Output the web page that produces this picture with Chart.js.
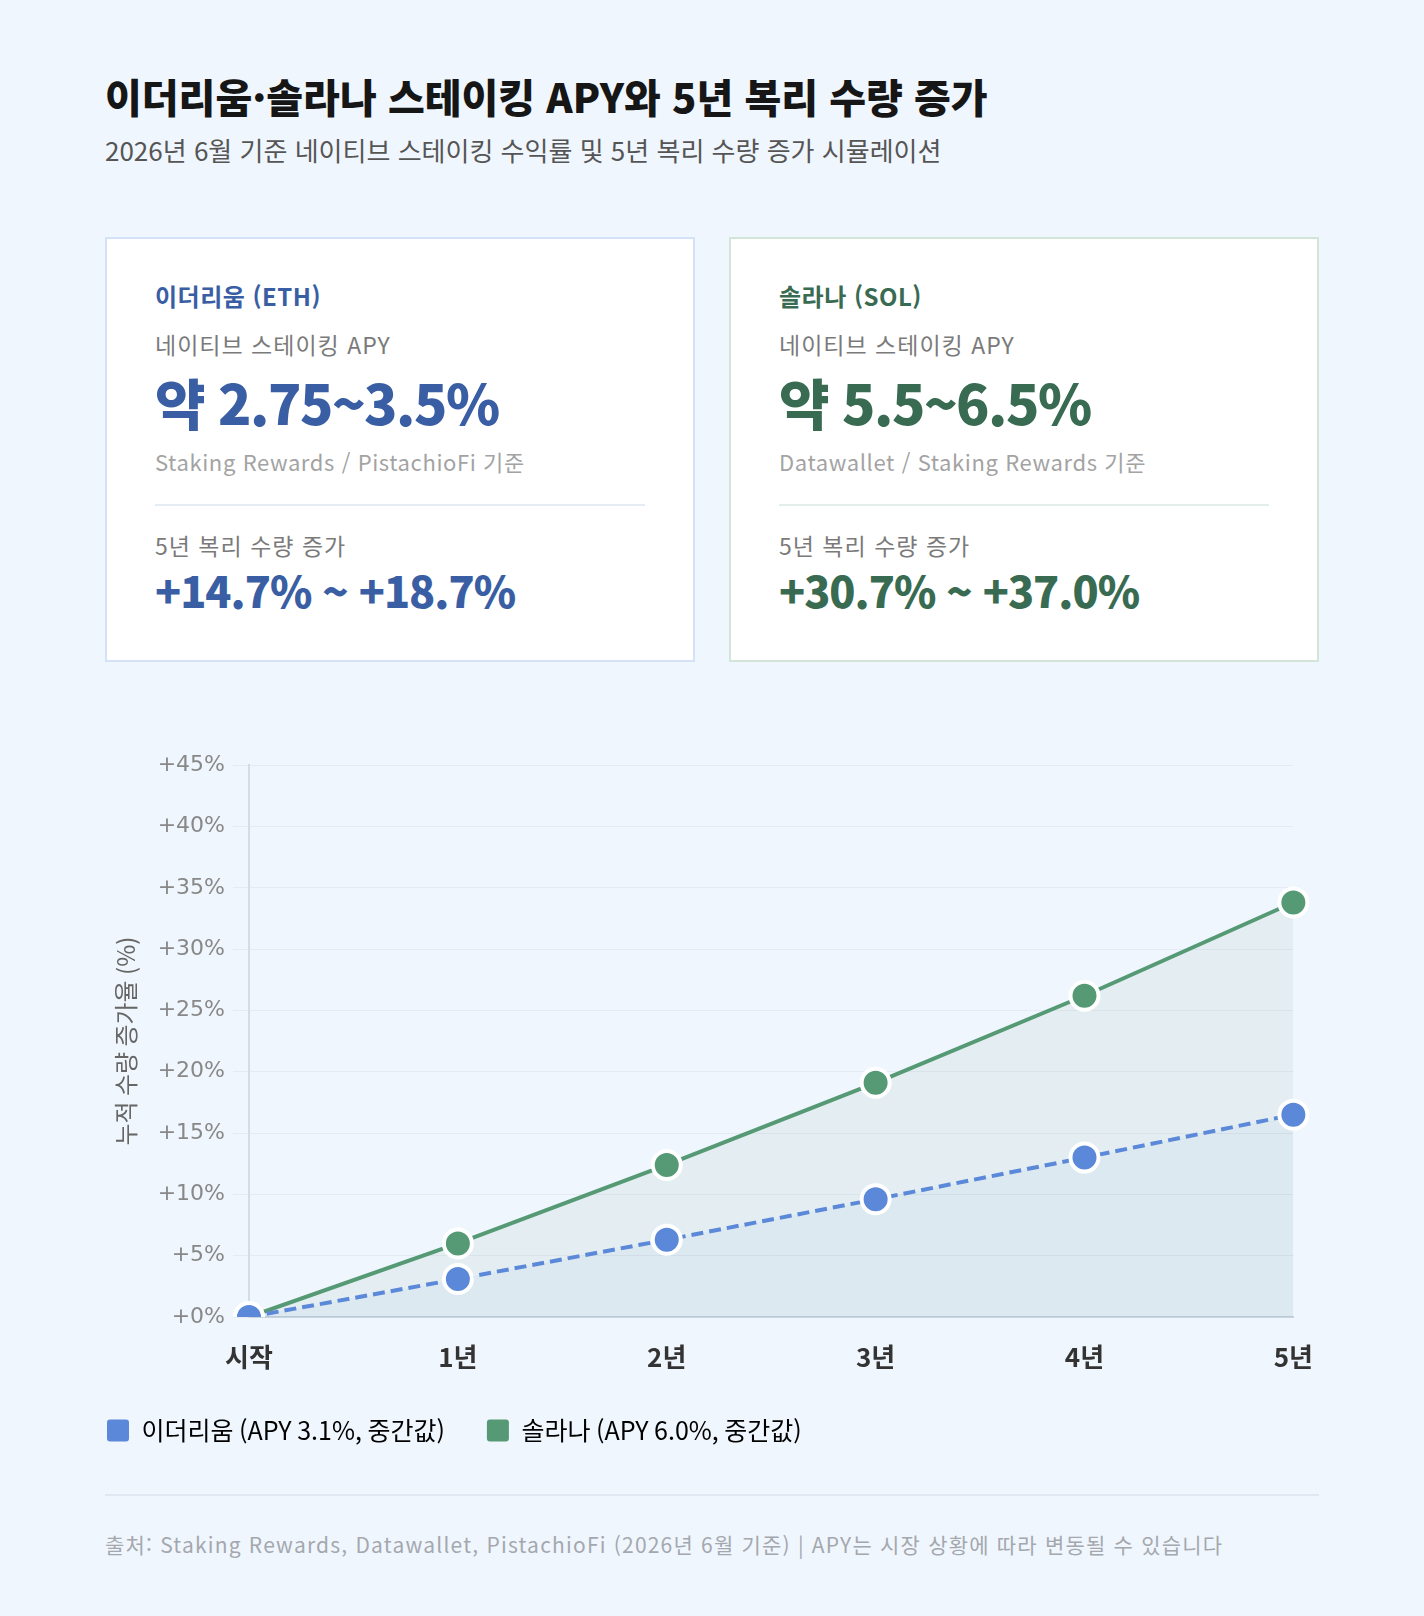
<!DOCTYPE html>
<html lang="ko">
<head>
<meta charset="utf-8">
<title>이더리움·솔라나 스테이킹 APY와 5년 복리 수량 증가</title>
<script src="https://cdn.jsdelivr.net/npm/chart.js@4.4.1/dist/chart.umd.min.js"></script>
<style>
  html, body { margin: 0; padding: 0; }
  body {
    width: 1424px; height: 1616px; background: #f0f6fd; overflow: hidden;
    font-family: "Noto Sans CJK KR", "Noto Sans", sans-serif; color: #1a1a1a;
  }
  .page { position: relative; width: 1214px; margin-left: 105px; }
  h1 { margin: 0; padding-top: 72px; font-size: 40px; line-height: 48px; font-weight: 800; letter-spacing: 0; color: #161616; }
  .sub { margin-top: 14px; font-size: 26px; line-height: 32px; color: #555; letter-spacing: 0; white-space: nowrap; }
  .cards { display: flex; gap: 34px; margin-top: 71px; }
  .card { box-sizing: border-box; width: 590px; height: 425px; background: #fff; border: 2px solid #d3e2f6; padding: 42px 48px 0 48px; }
  .card.sol { border-color: #d1e6d8; }
  .name { font-size: 24px; line-height: 30px; font-weight: 700; letter-spacing: 0.5px; }
  .lbl { font-size: 23px; line-height: 28px; color: #7a7a7a; letter-spacing: 1px; }
  .big { font-size: 55px; line-height: 64px; font-weight: 800; letter-spacing: -1.5px; margin-top: 11px; }
  .src { font-size: 22px; line-height: 28px; color: #a3a3a3; margin-top: 14px; letter-spacing: 0.6px; }
  hr { border: 0; border-top: 2px solid #e6ecf3; margin: 29px 0 0 0; }
  .card.sol hr { border-top-color: #e2eee7; }
  .l2 { margin-top: 25px; }
  .val2 { font-size: 43px; line-height: 48px; font-weight: 800; letter-spacing: -1px; margin-top: 6px; }
  .eth .name, .eth .big, .eth .val2 { color: #3a5ea3; }
  .sol .name, .sol .big, .sol .val2 { color: #386b52; }
  .l1 { margin-top: 19px; }
  .chart-box { position: absolute; left: -40px; top: 744px; width: 1273px; height: 709px; }
  .foot-line { position: absolute; left: 0; top: 1494px; width: 1214px; border-top: 2px solid #e0e9f3; }
  .foot { position: absolute; left: 0; top: 1530px; font-size: 21px; line-height: 28px; color: #a4a8ae; letter-spacing: 1.2px; white-space: nowrap; }
</style>
</head>
<body>
<div class="page">
  <h1>이더리움·솔라나 스테이킹 APY와 5년 복리 수량 증가</h1>
  <div class="sub">2026년 6월 기준 네이티브 스테이킹 수익률 및 5년 복리 수량 증가 시뮬레이션</div>

  <div class="cards">
    <div class="card eth">
      <div class="name">이더리움 (ETH)</div>
      <div class="lbl l1">네이티브 스테이킹 APY</div>
      <div class="big">약 2.75~3.5%</div>
      <div class="src">Staking Rewards / PistachioFi 기준</div>
      <hr>
      <div class="lbl l2">5년 복리 수량 증가</div>
      <div class="val2">+14.7% ~ +18.7%</div>
    </div>
    <div class="card sol">
      <div class="name">솔라나 (SOL)</div>
      <div class="lbl l1">네이티브 스테이킹 APY</div>
      <div class="big">약 5.5~6.5%</div>
      <div class="src">Datawallet / Staking Rewards 기준</div>
      <hr>
      <div class="lbl l2">5년 복리 수량 증가</div>
      <div class="val2">+30.7% ~ +37.0%</div>
    </div>
  </div>

  <div class="chart-box"><canvas id="growthChart"></canvas></div>
  <div class="foot-line"></div>
  <div class="foot">출처: Staking Rewards, Datawallet, PistachioFi (2026년 6월 기준) | APY는 시장 상황에 따라 변동될 수 있습니다</div>
</div>

<script>
// chart data
const years = ["시작", "1년", "2년", "3년", "4년", "5년"];
const ethGrowth = [0, 3.1, 6.3, 9.6, 13.0, 16.5];
const solGrowth = [0, 6.0, 12.4, 19.1, 26.2, 33.8];
const seriesNames = ["이더리움 (APY 3.1%, 중간값)", "솔라나 (APY 6.0%, 중간값)"];
const yMin = 0, yMax = 45, yStep = 5;

const blue = "#5b88d8";
const green = "#559a75";

let ctx = document.getElementById("growthChart").getContext("2d");
new Chart(ctx, {
    type: 'line',
    data: {
        labels: years,
        datasets: [{
            label: seriesNames[0],
            data: ethGrowth,
            borderColor: blue,
            backgroundColor: "rgba(91,136,216,0.06)",
            borderWidth: 4,
            borderDash: [12, 6],
            fill: 'origin',
            pointRadius: 14,
            pointBorderWidth: 4,
            pointBorderColor: "#fff",
            pointBackgroundColor: blue,
            tension: 0
        }, {
            label: seriesNames[1],
            data: solGrowth,
            borderColor: green,
            backgroundColor: "rgba(85,155,118,0.08)",
            borderWidth: 4,
            fill: 'origin',
            pointRadius: 14,
            pointBorderWidth: 4,
            pointBorderColor: "#fff",
            pointBackgroundColor: green,
            tension: 0
        }]
    },
    options: {
        responsive: true,
        maintainAspectRatio: false,
        animation: false,
        layout: { padding: { top: 10, right: 0, left: 0, bottom: 0 } },
        plugins: {
            tooltip: { enabled: false },
            legend: {
                position: 'bottom',
                align: 'start',
                labels: {
                    boxWidth: 22,
                    boxHeight: 22,
                    useBorderRadius: true,
                    borderRadius: 3,
                    padding: 42,
                    color: "#444",
                    font: { family: "'Noto Sans CJK KR', sans-serif", size: 25 },
                    generateLabels: function(chart) {
                        return chart.data.datasets.map(function(ds, i) {
                            return {
                                text: ds.label,
                                fillStyle: ds.borderColor,
                                strokeStyle: ds.borderColor,
                                lineWidth: 0,
                                borderRadius: 3,
                                datasetIndex: i
                            };
                        });
                    }
                }
            }
        },
        scales: {
            x: {
                afterFit: function(scale) { scale.height = 59; },
                grid: { display: false, drawTicks: false },
                border: { display: true, color: "#c8d4e0", width: 2 },
                ticks: {
                    padding: 25,
                    color: "#333",
                    font: { family: "'Noto Sans CJK KR', sans-serif", size: 26, weight: 'bold' }
                }
            },
            y: {
                min: yMin,
                max: yMax,
                afterFit: function(scale) { scale.width = 184; },
                grid: { color: "#e4ebf3", lineWidth: 1, tickLength: 16 },
                border: { display: true, color: "#d6dce5", width: 2 },
                ticks: {
                    stepSize: yStep,
                    padding: 8,
                    color: "#888",
                    font: { family: "'DejaVu Sans', sans-serif", size: 22 },
                    callback: function(v) { return '+' + v + '%'; }
                },
                title: {
                    display: true,
                    text: "누적 수량 증가율 (%)",
                    color: "#666",
                    padding: { top: 46, bottom: 4 },
                    font: { family: "'Noto Sans CJK KR', sans-serif", size: 24 }
                }
            }
        }
    }
});
</script>
</body>
</html>
